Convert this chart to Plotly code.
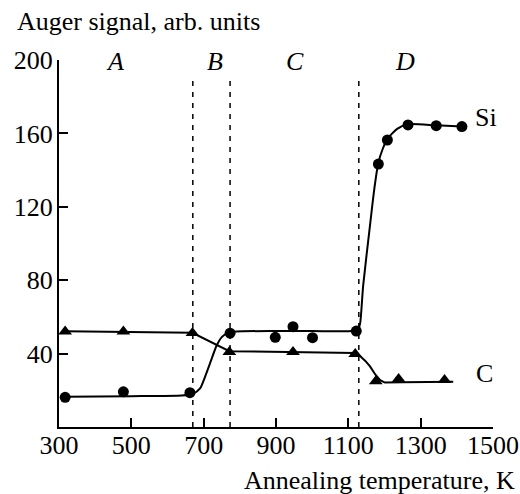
import plotly.graph_objects as go

si_x = [317, 478, 662, 773, 898, 947, 1001, 1122, 1183, 1208, 1265, 1343, 1414]
si_y = [16.2, 19.2, 18.7, 51.1, 48.9, 54.7, 48.7, 52.3, 143.3, 156.4, 164.6, 164.2, 163.7]

c_x = [317, 478, 669, 771, 947, 1119, 1176, 1239, 1366]
c_y = [52.0, 52.0, 51.2, 40.9, 40.9, 39.8, 24.9, 26.2, 25.6]

# Fitted guide curves
si_fit_x = [317, 500, 640, 670, 690, 705, 720, 735, 750, 765, 790, 900, 1000, 1110, 1122,
            1128, 1133, 1141, 1160, 1172, 1183, 1195, 1208, 1235, 1265, 1343, 1414]
si_fit_y = [16.5, 16.8, 17.2, 18.0, 21.0, 28.0, 36.0, 44.0, 49.0, 51.0, 52.0, 52.3, 52.3, 52.3, 53.0,
            53.5, 57.0, 77.0, 110.0, 130.0, 144.0, 151.5, 157.0, 162.5, 165.0, 164.4, 163.8]

c_fit_x = [317, 500, 669, 771, 900, 1000, 1118, 1133, 1147, 1160, 1175, 1188, 1201, 1250, 1390]
c_fit_y = [52.2, 51.8, 51.3, 41.3, 41.0, 40.8, 40.3, 38.5, 36.0, 33.0, 28.5, 25.5, 24.2, 24.4, 24.6]

boundaries = [670, 773, 1129]
region_labels = ["A", "B", "C", "D"]
region_x = [455, 731, 953, 1257]

x_ticks = [300, 500, 700, 900, 1100, 1300, 1500]
y_ticks = [40, 80, 120, 160, 200]

FONT = "Liberation Serif, Times New Roman, serif"

fig = go.Figure()

fig.add_trace(go.Scatter(x=si_fit_x, y=si_fit_y, mode="lines",
                         line=dict(color="black", width=2, shape="spline", smoothing=0.6),
                         showlegend=False, hoverinfo="skip"))
fig.add_trace(go.Scatter(x=c_fit_x, y=c_fit_y, mode="lines",
                         line=dict(color="black", width=2),
                         showlegend=False, hoverinfo="skip"))
fig.add_trace(go.Scatter(x=si_x, y=si_y, mode="markers",
                         marker=dict(symbol="circle", size=11, color="black"),
                         showlegend=False))
fig.add_trace(go.Scatter(x=c_x, y=c_y, mode="markers",
                         marker=dict(symbol="triangle-up", size=12, color="black"),
                         showlegend=False))

for b in boundaries:
    fig.add_shape(type="line", x0=b, x1=b, y0=0, y1=189, xref="x", yref="y",
                  line=dict(color="black", width=1.5, dash="5px,6px"))

for lab, xv in zip(region_labels, region_x):
    fig.add_annotation(x=xv, y=199, text="<i>%s</i>" % lab, showarrow=False,
                       xanchor="center", yanchor="middle",
                       font=dict(family=FONT, size=26, color="black"))

fig.add_annotation(x=1481, y=168.4, text="Si", showarrow=False, xanchor="center", yanchor="middle",
                   font=dict(family=FONT, size=26, color="black"))
fig.add_annotation(x=1476, y=29.2, text="C", showarrow=False, xanchor="center", yanchor="middle",
                   font=dict(family=FONT, size=26, color="black"))

fig.add_annotation(x=-0.1015, y=1.106, xref="paper", yref="paper", text="Auger signal, arb. units",
                   showarrow=False, xanchor="left", yanchor="middle",
                   font=dict(family=FONT, size=26, color="black"))
fig.add_annotation(x=1.056, y=-0.145, xref="paper", yref="paper", text="Annealing temperature, K",
                   showarrow=False, xanchor="right", yanchor="middle",
                   font=dict(family=FONT, size=26, color="black"))

fig.update_layout(
    width=520, height=494,
    margin=dict(l=59, r=27.3, t=60, b=67, autoexpand=False),
    paper_bgcolor="white", plot_bgcolor="white",
    font=dict(family=FONT, size=26, color="black"),
    xaxis=dict(range=[300, 1500], tickvals=x_ticks, ticks="inside", ticklen=9, tickwidth=1.5,
               tickcolor="black", showline=True, linecolor="black", linewidth=2,
               showgrid=False, zeroline=False, ticklabelstandoff=-6, automargin=False),
    yaxis=dict(range=[0, 200], tickvals=y_ticks, ticks="inside", ticklen=9, tickwidth=1.5,
               tickcolor="black", showline=True, linecolor="black", linewidth=2,
               showgrid=False, zeroline=False, ticklabelstandoff=-1, automargin=False),
)

fig.write_html("out.html")
